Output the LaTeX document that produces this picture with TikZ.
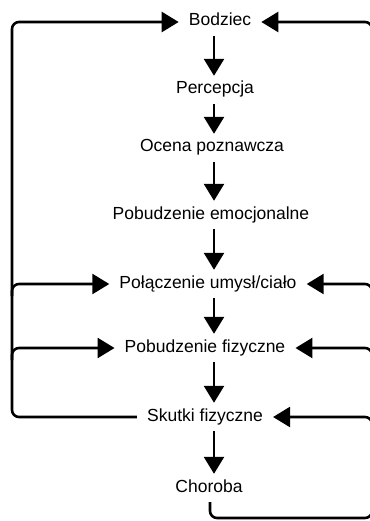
\documentclass[tikz,border=0pt]{standalone}
\usepackage{fontspec}
\setmainfont{Liberation Sans}
\usetikzlibrary{arrows.meta}
\begin{document}
\begin{tikzpicture}[x=1pt,y=-1pt,
  lbl/.style={font=\fontsize{17.5}{20}\selectfont, text height=12pt, text depth=4pt, inner xsep=10pt, inner ysep=6pt},
  link/.style={line width=2.6pt, -{Triangle[width=20pt,length=17pt]}},
  plain/.style={line width=2.6pt},
  rc/.style={rounded corners=7pt}]
\useasboundingbox (0,0) rectangle (369,521);
\node[lbl] (bod) at (220,22) {Bodziec};
\node[lbl] (per) at (215,90) {Percepcja};
\node[lbl] (oce) at (212,148) {Ocena poznawcza};
\node[lbl] (pem) at (211,215) {Pobudzenie emocjonalne};
\node[lbl] (pol) at (208,284) {Połączenie umysł/ciało};
\node[lbl] (pfi) at (205,348) {Pobudzenie fizyczne};
\node[lbl] (sku) at (205,417) {Skutki fizyczne};
\node[lbl] (cho) at (209,488) {Choroba};
\coordinate (col) at (214,0);
\coordinate (LT) at (12,22);
\coordinate (LB) at (12,417);
\coordinate (L2) at (12,284);
\coordinate (L2a) at (12,296);
\coordinate (L3) at (12,348);
\coordinate (L3a) at (12,360);
\coordinate (RT) at (372,22);
\coordinate (RB) at (372,518);
\coordinate (CB) at (210,518);
\coordinate (R2) at (372,284);
\coordinate (R2a) at (372,296);
\coordinate (R3) at (372,348);
\coordinate (R3a) at (372,360);
\coordinate (R4) at (372,417);
\coordinate (R4a) at (372,429);
% vertical chain
\draw[link] (bod.south -| col) -- (per.north -| col);
\draw[link] (per.south -| col) -- (oce.north -| col);
\draw[link] (oce.south -| col) -- (pem.north -| col);
\draw[link] (pem.south -| col) -- (pol.north -| col);
\draw[link] (pol.south -| col) -- (pfi.north -| col);
\draw[link] (pfi.south -| col) -- (sku.north -| col);
\draw[link] (sku.south -| col) -- (cho.north -| col);
% left loop
\draw[link, rc] (sku.west) -- (LB) -- (LT) -- (bod.west);
\draw[link, rc] (L2a) -- (L2) -- (pol.west);
\draw[link, rc] (L3a) -- (L3) -- (pfi.west);
% right loop
\draw[link, rc] (cho.south -| CB) -- (CB) -- (RB) -- (RT) -- (bod.east);
\draw[link, rc] (R2a) -- (R2) -- (pol.east);
\draw[link, rc] (R3a) -- (R3) -- (pfi.east);
\draw[link, rc] (R4a) -- (R4) -- (sku.east);
\end{tikzpicture}
\end{document}
